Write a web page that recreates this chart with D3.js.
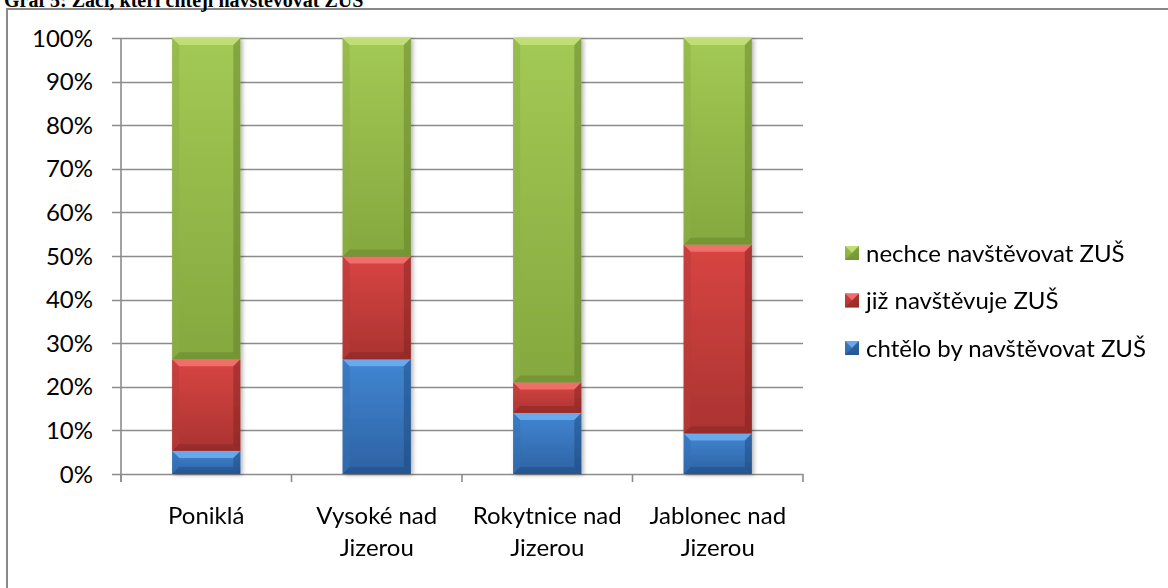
<!DOCTYPE html>
<html>
<head>
<meta charset="utf-8">
<script src="https://cdn.jsdelivr.net/npm/d3@7"></script>
<style>
  body { margin: 0; background: #fff; overflow: hidden; }
  svg { display: block; }
  .lbl { font-family: Lato, "Open Sans", sans-serif; font-size: 24px; fill: #000; }
  .title { font-family: "Liberation Serif", "Times New Roman", serif; font-weight: bold; font-size: 20px; }
</style>
</head>
<body>
<div id="chart"></div>
<script>
(function(d3) {
  'use strict';

  var categories = ['Poniklá', 'Vysoké nad Jizerou', 'Rokytnice nad Jizerou', 'Jablonec nad Jizerou'];
  var chteloBy = [5.3, 26.3, 14.0, 9.3];
  var jizNavstevuje = [21.0, 23.6, 7.0, 43.3];
  var nechce = [73.7, 50.1, 79.0, 47.4];
  var seriesNames = ['chtělo by navštěvovat ZUŠ', 'již navštěvuje ZUŠ', 'nechce navštěvovat ZUŠ'];
  var yTicks = [0, 10, 20, 30, 40, 50, 60, 70, 80, 90, 100];

  var colors = {
    'chtělo by navštěvovat ZUŠ': { top: '#4186d2', bottom: '#2d62a3', light: '#6fb0f0', dark: '#1d4575', side: '#3470b4' },
    'již navštěvuje ZUŠ':        { top: '#d84542', bottom: '#aa3331', light: '#f47573', dark: '#7a2220', side: '#b83a38' },
    'nechce navštěvovat ZUŠ':    { top: '#a3c955', bottom: '#85a83e', light: '#c4e27a', dark: '#5f7a2a', side: '#8caf45' }
  };

  var W = 1168, H = 588;
  var left = 121, right = 803, top = 38, bottom = 474;

  var rows = categories.map(function(c, i) {
    return { cat: c, 'chtělo by navštěvovat ZUŠ': chteloBy[i], 'již navštěvuje ZUŠ': jizNavstevuje[i], 'nechce navštěvovat ZUŠ': nechce[i] };
  });
  var stacked = d3.stack().keys(seriesNames)(rows);

  var x = d3.scaleBand().domain(categories).range([left, right]).paddingInner(0.6).paddingOuter(0.3);
  var y = d3.scaleLinear().domain([0, 100]).range([bottom, top]);

  var svg = d3.select('#chart').append('svg').attr('width', W).attr('height', H);
  var defs = svg.append('defs');

  seriesNames.forEach(function(s, i) {
    var g = defs.append('linearGradient').attr('id', 'grad' + i)
      .attr('x1', 0).attr('y1', 0).attr('x2', 0).attr('y2', 1);
    g.append('stop').attr('offset', '0%').attr('stop-color', colors[s].top);
    g.append('stop').attr('offset', '100%').attr('stop-color', colors[s].bottom);
  });
  var f = defs.append('filter').attr('id', 'shadow').attr('x', '-20%').attr('y', '-20%').attr('width', '150%').attr('height', '150%');
  f.append('feDropShadow').attr('dx', 2).attr('dy', 1).attr('stdDeviation', 2).attr('flood-color', '#000').attr('flood-opacity', 0.3);

  // frame and title (title is clipped at the top, as in the source)
  svg.append('rect').attr('x', 7).attr('y', 9).attr('width', W + 20).attr('height', H + 20)
    .attr('fill', 'none').attr('stroke', '#898989').attr('stroke-width', 2);
  svg.append('text').attr('class', 'title').attr('x', 4).attr('y', 7)
    .text('Graf 5: Žáci, kteří chtějí navštěvovat ZUŠ');

  // gridlines + y labels
  var grid = svg.append('g');
  grid.selectAll('line').data(yTicks).enter().append('line')
    .attr('x1', left - 9).attr('x2', right)
    .attr('y1', function(d) { return Math.round(y(d)) + 0.5; })
    .attr('y2', function(d) { return Math.round(y(d)) + 0.5; })
    .attr('stroke', '#8c8c8c').attr('stroke-width', 1.6);
  grid.selectAll('text').data(yTicks).enter().append('text')
    .attr('class', 'lbl')
    .attr('x', 93).attr('y', function(d) { return y(d); })
    .attr('dy', '0.36em').attr('text-anchor', 'end')
    .text(function(d) { return d + '%'; });

  // axes lines
  svg.append('line').attr('x1', left).attr('x2', left).attr('y1', top).attr('y2', bottom + 8)
    .attr('stroke', '#8c8c8c').attr('stroke-width', 1.6);
  var bounds = d3.range(categories.length + 1).map(function(i) { return left + i * x.step(); });
  svg.append('g').selectAll('line').data(bounds).enter().append('line')
    .attr('x1', function(d) { return d; }).attr('x2', function(d) { return d; })
    .attr('y1', bottom).attr('y2', bottom + 8)
    .attr('stroke', '#8c8c8c').attr('stroke-width', 1.6);

  // bevelled box
  function bevel(sel, bx, by, w, h, si) {
    var c = colors[seriesNames[si]];
    var b = Math.min(7, h / 2, w / 2);
    var g = sel.append('g');
    g.append('rect').attr('x', bx).attr('y', by).attr('width', w).attr('height', h)
      .attr('fill', 'url(#grad' + si + ')');
    var pts = function(a) { return a.map(function(p) { return p.join(','); }).join(' '); };
    g.append('polygon').attr('points', pts([[bx, by], [bx + w, by], [bx + w - b, by + b], [bx + b, by + b]]))
      .attr('fill', c.light).attr('opacity', 0.85);
    g.append('polygon').attr('points', pts([[bx, by + h], [bx + w, by + h], [bx + w - b, by + h - b], [bx + b, by + h - b]]))
      .attr('fill', c.dark).attr('opacity', 0.4);
    g.append('polygon').attr('points', pts([[bx, by], [bx + b, by + b], [bx + b, by + h - b], [bx, by + h]]))
      .attr('fill', c.side).attr('opacity', 0.5);
    g.append('polygon').attr('points', pts([[bx + w, by], [bx + w - b, by + b], [bx + w - b, by + h - b], [bx + w, by + h]]))
      .attr('fill', c.dark).attr('opacity', 0.45);
    return g;
  }

  // bars
  var barsG = svg.append('g').attr('filter', 'url(#shadow)');
  stacked.forEach(function(layer, si) {
    layer.forEach(function(d) {
      var y0 = y(d[1]), y1 = y(d[0]);
      bevel(barsG, x(d.data.cat), y0, x.bandwidth(), y1 - y0, si);
    });
  });

  // x labels, wrapped
  categories.forEach(function(c) {
    var cx = x(c) + x.bandwidth() / 2;
    var t = svg.append('text').attr('class', 'lbl').attr('text-anchor', 'middle')
      .attr('x', cx).attr('y', 524);
    var words = c.split(' '), line = [];
    var ts = t.append('tspan').attr('x', cx).attr('dy', 0);
    words.forEach(function(w) {
      line.push(w);
      ts.text(line.join(' '));
      if (ts.node().getComputedTextLength() > 160 && line.length > 1) {
        line.pop();
        ts.text(line.join(' '));
        line = [w];
        ts = t.append('tspan').attr('x', cx).attr('dy', 32).text(w);
      }
    });
  });

  // legend
  var legendOrder = seriesNames.slice().reverse();
  var lg = svg.append('g');
  legendOrder.forEach(function(s, i) {
    var cy = 253 + i * 47.5;
    bevel(lg, 845, cy - 7, 14, 14, seriesNames.indexOf(s));
    lg.append('text').attr('class', 'lbl').attr('x', 866).attr('y', cy).attr('dy', '0.36em').text(s);
  });
}(d3));
</script>
</body>
</html>
